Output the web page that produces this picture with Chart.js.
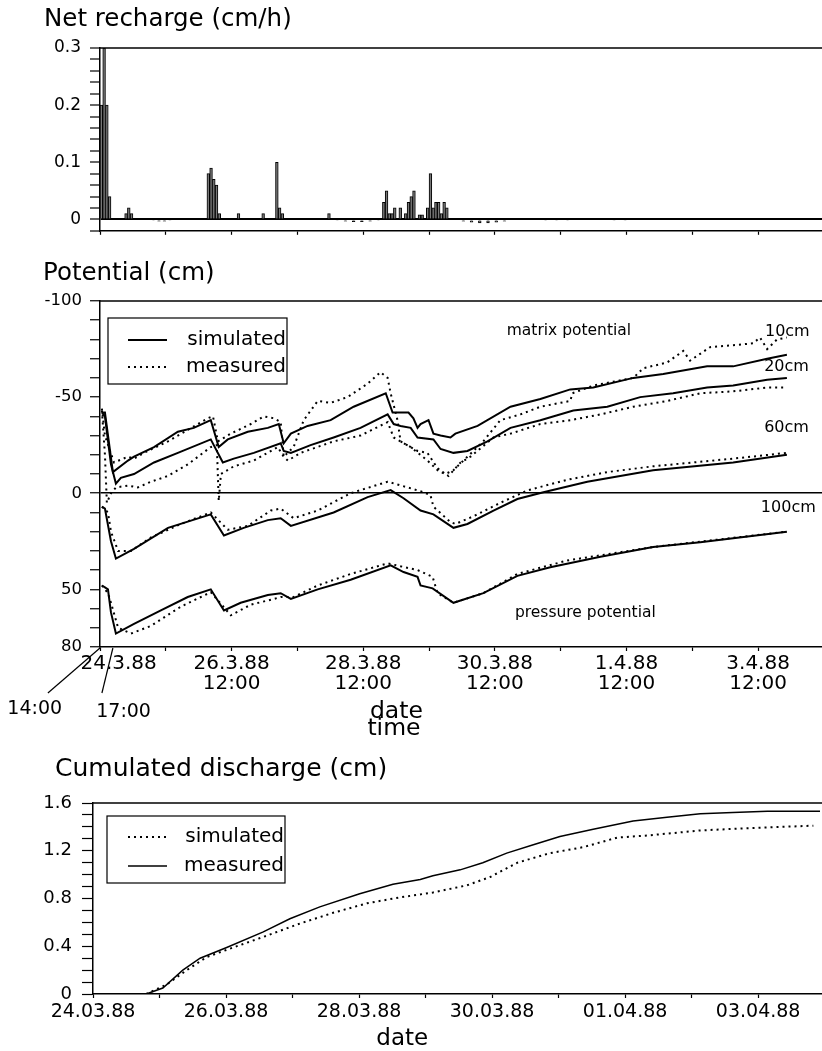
<!DOCTYPE html>
<html>
<head>
<meta charset="utf-8">
<title>Net recharge, potential and cumulated discharge</title>
<script src="https://cdn.jsdelivr.net/npm/chart.js@4.4.1/dist/chart.umd.min.js"></script>
<style>
body{margin:0;background:#fff;overflow:hidden;}
.panel{position:absolute;left:0;width:822px;}
</style>
</head>
<body>
<div class="panel" style="top:0;height:250px"><canvas id="rechargeChart"></canvas></div>
<div class="panel" style="top:250px;height:500px"><canvas id="potentialChart"></canvas></div>
<div class="panel" style="top:750px;height:301px"><canvas id="dischargeChart"></canvas></div>
<script>
const FONT="'DejaVu Sans', sans-serif";
Chart.defaults.font.family=FONT;
Chart.defaults.color="#000";

// net recharge, hourly bars (hours after 24.3.88 12:00, cm/h)
const rechargeHours=[0.5,1.5,2.5,3.5, 9.5,10.5,11.5, 19.5,21.5,23.5,25.5,
39.5,40.5,41.5,42.5,43.5, 50.5,59.5, 64.5,65.5,66.5, 83.5,
86.5,89.5,92.5,95.5,98.5,101.5,
103.5,104.5,105.5,106.5,107.5, 109.5,111.5,112.5,113.5,114.5, 116.5,117.5,
119.5,120.5,121.5,122.5,123.5,124.5,125.5,126.5,
132.5,135.5,138.5,141.5,144.5,147.5, 162.5,166.5,170.5, 187.5,191.5];
const rechargeValues=[0.2,0.3,0.2,0.04, 0.01,0.02,0.01, -0.002,-0.003,-0.003,-0.002,
0.08,0.09,0.07,0.06,0.01, 0.01,0.01, 0.1,0.02,0.01, 0.01,
-0.002,-0.003,-0.004,-0.004,-0.003,-0.002,
0.03,0.05,0.01,0.01,0.02, 0.02,0.01,0.03,0.04,0.05, 0.008,0.008,
0.02,0.08,0.02,0.03,0.03,0.01,0.03,0.02,
-0.003,-0.005,-0.006,-0.006,-0.005,-0.003, -0.002,-0.002,-0.002, -0.002,-0.002];
const rechargeTickValues=[0,0.1,0.2,0.3];

// potential (cm), hours after 24.3.88 12:00
const sim10Hours=[0.7,1.8,4.7,10.2,12.4,19.7,28.4,34.2,40.4,43.3,46.6,53.9,61.2,65.2,67.0,69.6,75.7,84.1,92.5,104.2,106.7,109.6,112.5,114.3,115.8,116.9,119.8,121.6,124.2,127.8,129.6,137.7,149.7,160.6,171.5,179.9,194.5,205.4,221.4,230.9,243.3,250.5];
const sim10Values=[-42,-42,-11,-17,-19,-24,-32,-34,-38,-24,-28,-32,-34,-36,-26,-31,-35,-38,-45,-52,-42,-42,-42,-39,-34,-36,-38,-31,-30,-29,-31,-35,-45,-49,-54,-55,-60,-62,-66,-66,-70,-72];
const meas10Hours=[0.7,1.8,5.1,10.2,12.4,16.0,24.8,32.0,39.3,41.2,43.0,47.7,55.0,59.7,63.4,65.9,67.0,70.6,74.3,79.4,84.1,90.3,97.6,102.3,104.9,106.0,108.5,109.6,115.8,119.4,123.1,126.0,128.9,134.0,139.8,146.0,153.3,160.6,171.5,172.3,179.9,194.5,198.1,206.8,212.7,215.2,222.5,230.9,238.2,240.7,243.3,246.9,250.5];
const meas10Values=[-44,-30,-16,-19,-18,-21,-27,-33,-39,-40,-27,-31,-36,-40,-39,-37,-19,-24,-38,-48,-47,-50,-57,-63,-60,-52,-38,-27,-22,-21,-13,-10,-12,-19,-27,-38,-41,-45,-48,-52,-56,-60,-65,-68,-74,-69,-76,-77,-78,-81,-75,-80,-81];
const sim20Hours=[0.7,1.8,4.0,5.8,7.6,12.4,19.7,28.4,40.4,44.8,48.8,56.1,65.9,67.0,69.6,76.8,85.2,95.0,104.9,107.1,109.6,113.3,115.8,121.6,124.2,128.9,134.0,141.3,149.7,160.6,172.6,185.0,197.0,209.0,221.4,230.9,243.3,250.5];
const sim20Values=[-42,-40,-15,-5,-8,-10,-16,-21,-28,-16,-18,-21,-26,-22,-21,-25,-29,-34,-41,-36,-35,-34,-29,-28,-23,-21,-22,-27,-34,-38,-43,-45,-50,-52,-55,-56,-59,-60];
const meas20Hours=[0.7,1.8,2.5,4.0,5.8,10.2,13.8,18.6,24.8,32.0,40.4,42.6,43.3,44.1,48.8,56.1,64.8,67.0,68.5,73.2,85.2,95.0,104.9,107.1,113.3,119.4,123.1,127.1,131.5,135.1,143.5,149.7,160.6,171.5,182.5,194.5,206.8,218.9,230.9,243.3,250.5];
const meas20Values=[-43,-20,5,0,-3,-4,-3,-6,-9,-15,-24,-25,4,-10,-14,-17,-24,-19,-17,-21,-27,-30,-37,-29,-24,-17,-12,-9,-16,-19,-29,-31,-36,-38,-41,-45,-48,-52,-53,-55,-55];
const sim60Hours=[0.7,1.8,4.0,5.8,12.4,24.8,40.4,45.2,52.4,61.2,65.9,69.6,85.2,97.6,106.0,110.7,116.9,121.6,128.9,134.0,143.5,152.2,161.7,177.7,201.7,230.9,250.5];
const sim60Values=[7,8,25,34,29,18,11,22,18,14,13,17,10,2,-1.6,2.6,9,11,18,16,9,3,-0.5,-6,-12,-16,-20];
const meas60Hours=[0.7,2.9,4.0,6.6,11.3,18.6,29.5,40.4,46.6,53.9,62.3,65.9,70.6,79.4,91.4,104.9,112.2,116.9,120.5,121.6,127.8,129.6,136.2,146.0,155.9,170.4,185.0,201.7,230.9,250.5];
const meas60Values=[7,10,20,30,30,23,16,10,19,17,9,8,13,9,0,-6,-3,-1,1,7,15,16,12,5,-1.5,-7,-11,-14,-18,-21];
const sim100Hours=[0.7,1.8,2.9,4.0,5.8,12.4,22.2,32.0,40.4,45.2,51.3,61.2,65.9,69.6,79.4,91.4,106.0,110.7,115.8,116.9,121.3,128.9,139.8,152.2,164.2,182.5,201.7,218.9,250.5];
const sim100Values=[48,49,50,62,73,68,61,54,50,61,57,53,52,55,50,45,37.5,41,43.5,48,49.5,57,52,43,38.5,33,28,25.5,20];
const meas100Hours=[0.7,2.9,4.0,6.6,11.3,18.6,29.5,40.4,47.7,55.0,63.4,65.9,70.6,79.4,91.4,104.9,115.8,121.3,123.1,128.9,139.8,152.2,170.4,201.7,250.5];
const meas100Values=[48,52,57,70,73,69,59,51.5,63.5,58,55,54,54,48,42,36.5,40,43.5,52,57,52,42,35,28,20];
const potentialTickValues=[-100,-50,0,50,80];
const potentialTickHours=[48,96,144,192,240];
const potentialTickDates=["26.3.88","28.3.88","30.3.88","1.4.88","3.4.88"];
const potentialTickTime="12:00";

// cumulated discharge (cm), days after 24.03.88
const simDays=[0.8,1.11,1.41,1.71,2.11,2.62,3.11,3.61,4.12,4.62,5.11,5.62,5.97,6.38,6.87,7.37,7.88,8.38,9.13,9.88,10.83];
const simCum=[0,0.08,0.2,0.31,0.39,0.49,0.59,0.68,0.76,0.81,0.85,0.91,0.98,1.1,1.18,1.23,1.31,1.33,1.37,1.39,1.41];
const measDays=[0.8,1.05,1.35,1.61,2.01,2.56,2.96,3.41,4.01,4.51,4.92,5.11,5.52,5.86,6.22,6.62,7.02,7.52,8.12,8.63,9.13,9.62,10.14,10.93];
const measCum=[0,0.05,0.2,0.3,0.39,0.52,0.63,0.73,0.84,0.92,0.96,0.99,1.04,1.1,1.18,1.25,1.32,1.38,1.45,1.48,1.51,1.52,1.53,1.53];
const dischargeTickValues=[0,0.4,0.8,1.2,1.6];
const dischargeTickDays=[0,2,4,6,8,10];
const dischargeTickLabels=["24.03.88","26.03.88","28.03.88","30.03.88","01.04.88","03.04.88"];

const pts=(xs,ys)=>xs.map((x,i)=>({x:x,y:ys[i]}));
const near=(list,v)=>list.some(t=>Math.abs(t-v)<1e-9);

function solid(label,xs,ys,w){
return {label:label,data:pts(xs,ys),borderColor:"#000",borderWidth:w||2,borderDash:[],pointRadius:0,tension:0,fill:false};
}
function dotted(label,xs,ys){
return {label:label,data:pts(xs,ys),borderColor:"#000",borderWidth:2,borderDash:[2,4],pointRadius:0,tension:0,fill:false};
}

function zeroLine(c){
return c.tick&&c.tick.value===0?"#000":"rgba(0,0,0,0)";
}

// title offset, top frame line, free text, pointer lines and a boxed legend
function paperPlugin(cfg){
return {
id:"paper",
afterLayout(chart){
if(chart.titleBlock&&cfg.titleLeft!==undefined){
chart.titleBlock.left=cfg.titleLeft;
}
},
afterDraw(chart){
const ctx=chart.ctx;
const a=chart.chartArea;
const sx=chart.scales.x;
const sy=chart.scales.y;
ctx.save();
ctx.strokeStyle="#000";
ctx.fillStyle="#000";
ctx.lineWidth=1.5;
ctx.beginPath();
ctx.moveTo(a.left,a.top);
ctx.lineTo(a.right,a.top);
ctx.stroke();

(cfg.pointers||[]).forEach(p=>{
ctx.lineWidth=1.2;
ctx.beginPath();
ctx.moveTo(sx.getPixelForValue(p.x0),a.bottom+p.dy0);
ctx.lineTo(sx.getPixelForValue(p.x1),a.bottom+p.dy1);
ctx.stroke();
});

ctx.textBaseline="middle";
(cfg.notes||[]).forEach(n=>{
ctx.font=n.size+"px "+FONT;
ctx.textAlign=n.align||"left";
const py=n.y!==undefined?sy.getPixelForValue(n.y):a.bottom+n.dy;
ctx.fillText(n.text,sx.getPixelForValue(n.x),py);
});

if(cfg.legend){
const L=cfg.legend;
const bx=a.left+L.dx;
const by=a.top+L.dy;
ctx.lineWidth=1.2;
ctx.strokeRect(bx,by,L.w,L.h);
ctx.font="20px "+FONT;
ctx.textAlign="right";
L.rows.forEach(r=>{
const ds=chart.data.datasets[r.dataset];
const ly=by+r.y;
ctx.lineWidth=ds.borderWidth;
ctx.setLineDash(ds.borderDash||[]);
ctx.beginPath();
ctx.moveTo(bx+L.lineFrom,ly);
ctx.lineTo(bx+L.lineTo,ly);
ctx.stroke();
ctx.setLineDash([]);
ctx.fillText(ds.label,bx+L.w-1,ly);
});
}
ctx.restore();
}
};
}

new Chart(document.getElementById("rechargeChart"),{
type:"bar",
data:{
datasets:[{
label:"net recharge",
data:pts(rechargeHours,rechargeValues),
backgroundColor:"#777",
borderColor:"#000",
borderWidth:1,
barPercentage:1,
categoryPercentage:1
}]
},
options:{
animation:false,
responsive:true,
maintainAspectRatio:false,
devicePixelRatio:1,
layout:{padding:0},
plugins:{
legend:{display:false},
tooltip:{enabled:false},
title:{display:true,text:"Net recharge (cm/h)",align:"start",font:{size:24.5,weight:"normal"},padding:{top:5.3,bottom:13.3}}
},
scales:{
x:{
type:"linear",min:0,max:263.3,offset:false,
ticks:{stepSize:24,includeBounds:false,autoSkip:false,maxRotation:0,callback:()=>""},
grid:{drawOnChartArea:false,offset:false,tickLength:4,tickColor:"#000",tickWidth:1.2},
border:{color:"#000",width:1.5},
afterFit:s=>{s.height=14;}
},
y:{
min:-0.02,max:0.3,
ticks:{stepSize:0.02,includeBounds:false,autoSkip:false,padding:9,font:{size:17},
callback:v=>near(rechargeTickValues,v)?String(Math.round(v*10)/10):""},
grid:{color:zeroLine,lineWidth:2,tickLength:10,tickColor:"#000",tickWidth:1.2},
border:{color:"#000",width:1.5},
afterFit:s=>{s.width=100;}
}
}
},
plugins:[paperPlugin({titleLeft:44})]
});

new Chart(document.getElementById("potentialChart"),{
type:"line",
data:{
datasets:[
solid("simulated",sim10Hours,sim10Values),
dotted("measured",meas10Hours,meas10Values),
solid("simulated",sim20Hours,sim20Values),
dotted("measured",meas20Hours,meas20Values),
solid("simulated",sim60Hours,sim60Values),
dotted("measured",meas60Hours,meas60Values),
solid("simulated",sim100Hours,sim100Values),
dotted("measured",meas100Hours,meas100Values)
]
},
options:{
animation:false,
responsive:true,
maintainAspectRatio:false,
devicePixelRatio:1,
layout:{padding:{left:0,right:0,top:0,bottom:11.3}},
plugins:{
legend:{display:false},
tooltip:{enabled:false},
title:{display:true,text:"Potential (cm)",align:"start",font:{size:24.5,weight:"normal"},padding:{top:8.8,bottom:12.8}}
},
scales:{
x:{
type:"linear",min:0,max:263.3,
ticks:{stepSize:24,includeBounds:false,autoSkip:false,maxRotation:0,padding:2.7,font:{size:20,lineHeight:1},
callback:v=>{const i=potentialTickHours.indexOf(v);return i<0?"":[potentialTickDates[i],potentialTickTime];}},
grid:{drawOnChartArea:false,tickLength:4,tickColor:"#000",tickWidth:1.2},
border:{color:"#000",width:1.5},
afterFit:s=>{s.height=91.7;}
},
y:{
reverse:true,min:-100,max:80,
ticks:{stepSize:10,includeBounds:false,autoSkip:false,padding:8,font:{size:16.5},
callback:v=>near(potentialTickValues,v)?String(v):""},
grid:{color:zeroLine,lineWidth:1.5,tickLength:10,tickColor:"#000",tickWidth:1.2},
border:{color:"#000",width:1.5},
afterFit:s=>{s.width=100;}
}
}
},
plugins:[paperPlugin({
titleLeft:43,
notes:[
{text:"matrix potential",x:171,y:-84.3,size:15.5,align:"center"},
{text:"pressure potential",x:177,y:62.4,size:15.5,align:"center"},
{text:"10cm",x:242.5,y:-83.8,size:16},
{text:"20cm",x:242.2,y:-65.6,size:16},
{text:"60cm",x:242.2,y:-33.8,size:16},
{text:"100cm",x:241,y:7.8,size:16},
{text:"24.3.88",x:6.8,dy:16.7,size:20,align:"center"},
{text:"14:00",x:-23.8,dy:62,size:19,align:"center"},
{text:"17:00",x:8.6,dy:65,size:19,align:"center"},
{text:"date",x:108.1,dy:64.7,size:23.5,align:"center"},
{text:"time",x:107.2,dy:81.7,size:23.5,align:"center"}
],
pointers:[
{x0:-19,dy0:46,x1:0,dy1:1},
{x0:0.7,dy0:46,x1:4.7,dy1:1}
],
legend:{dx:8,dy:17,w:179,h:66,lineFrom:20,lineTo:59,rows:[{dataset:0,y:22},{dataset:1,y:49}]}
})]
});

new Chart(document.getElementById("dischargeChart"),{
type:"line",
data:{
datasets:[
dotted("simulated",simDays,simCum),
solid("measured",measDays,measCum,1.5)
]
},
options:{
animation:false,
responsive:true,
maintainAspectRatio:false,
devicePixelRatio:1,
layout:{padding:0},
plugins:{
legend:{display:false},
tooltip:{enabled:false},
title:{display:true,text:"Cumulated discharge (cm)",align:"start",font:{size:25,weight:"normal"},padding:{top:4,bottom:19}}
},
scales:{
x:{
type:"linear",min:0,max:10.96,
ticks:{stepSize:1,includeBounds:false,autoSkip:false,maxRotation:0,padding:3.1,font:{size:19},
callback:v=>{const i=dischargeTickDays.indexOf(v);return i<0?"":dischargeTickLabels[i];}},
grid:{drawOnChartArea:false,tickLength:4,tickColor:"#000",tickWidth:1.2},
border:{color:"#000",width:1.5},
afterFit:s=>{s.height=57;}
},
y:{
min:0,max:1.6,
ticks:{stepSize:0.1,includeBounds:false,autoSkip:false,padding:10,font:{size:18},
callback:v=>near(dischargeTickValues,v)?(Math.abs(v)<1e-9?"0":v.toFixed(1)):""},
grid:{drawOnChartArea:false,tickLength:11,tickColor:"#000",tickWidth:1.2},
border:{color:"#000",width:1.5},
afterFit:s=>{s.width=93;}
}
}
},
plugins:[paperPlugin({
titleLeft:55,
notes:[{text:"date",x:4.65,dy:44.7,size:23,align:"center"}],
legend:{dx:14,dy:13,w:178,h:67,lineFrom:21,lineTo:60,rows:[{dataset:0,y:21},{dataset:1,y:50}]}
})]
});
</script>
</body>
</html>
